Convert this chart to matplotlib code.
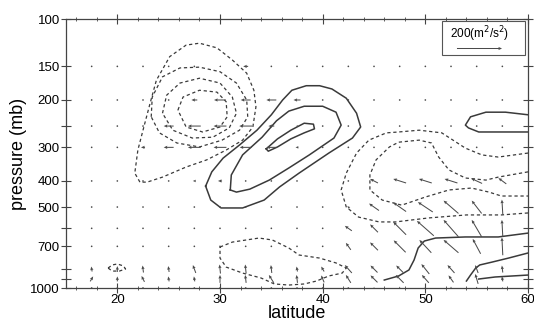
import matplotlib
matplotlib.use("Agg")
import matplotlib.pyplot as plt
import numpy as np
from matplotlib.patches import Rectangle
from matplotlib.ticker import MultipleLocator, FixedLocator, FixedFormatter, NullLocator

plt.rcParams['font.family'] = ['Liberation Sans', 'DejaVu Sans']

# === Grade dos vetores (latitude x nível de pressão) ===
lats_vec = [17.5, 20.0, 22.5, 25.0, 27.5, 30.0, 32.5, 35.0, 37.5, 40.0,
            42.5, 45.0, 47.5, 50.0, 52.5, 55.0, 57.5]
levels_vec = [1000, 925, 850, 700, 600, 500, 400, 300, 250, 200, 150]

# componente horizontal (m2/s2), uma linha por nível
u_flux = [
    [0, 0, 0, 0, 0, 0, 0, 0, 0, 0, 0, 0, 0, 0, 0, 0, 0],
    [13, 0, -13, -4, -4, 0, -4, -22, -4, -13, -22, -31, -35, -31, -22, -13, -4],
    [-4, 0, -4, -4, -13, -4, -4, -4, -4, -13, -31, -31, -31, -35, -31, -13, -4],
    [0, 0, 0, 0, 0, 0, 0, 0, 0, 0, -22, -35, -53, -53, -66, -35, -4],
    [0, 0, 0, 0, 0, 0, 0, 0, 0, 0, -31, -35, -57, -75, -66, -44, -4],
    [0, 0, 0, 0, 0, 0, 0, 0, 0, 0, -9, -44, -57, -66, -66, -44, -4],
    [0, 0, 0, 0, -13, -18, 0, 0, 0, 0, 0, -35, -57, -57, -57, -48, -35],
    [0, 0, -18, -44, -57, -57, -53, -44, -13, 0, 0, 0, 0, 0, 0, 0, 0],
    [0, 0, 0, -44, -57, -57, -57, -26, -9, 0, 0, 0, 0, 0, 0, 0, 0],
    [0, 0, 0, 0, -26, -53, -44, -44, -31, 0, 0, 0, 0, 0, 0, 0, 0],
    [0, 0, 0, 0, 0, -9, -22, 0, 0, 0, 0, 0, 0, 0, 0, 0, 0],
]
# componente vertical (positivo = para cima)
v_flux = [
    [0, 0, 0, 0, 0, 0, 0, 0, 0, 0, 0, 9, 13, 13, 13, 13, 9],
    [22, 22, 26, 22, 22, 35, 35, 35, 35, 31, 35, 31, 35, 35, 31, 44, 22],
    [22, 26, 31, 26, 35, 40, 40, 35, 22, 22, 35, 31, 31, 44, 35, 35, 31],
    [0, 0, 0, 0, 0, 0, 0, 0, 0, 0, 31, 35, 53, 57, 57, 66, 79],
    [0, 0, 0, 0, 0, 0, 0, 0, 0, 0, 22, 35, 57, 66, 75, 75, 75],
    [0, 0, 0, 0, 0, 0, 0, 0, 0, 0, 9, 31, 40, 44, 57, 57, 66],
    [0, 0, 0, 0, 0, 0, 0, 0, 0, 0, 0, 18, 18, 18, 18, 22, 26],
    [0] * 17,
    [0] * 17,
    [0] * 17,
    [0] * 17,
]

# === Contornos: (latitude, pressão) ===
# negativos (tracejados)
neg_a1 = [(22.2, 404), (21.7, 374), (22.0, 307), (22.5, 259), (23.2, 205), (23.8, 169),
          (25.1, 138), (26.7, 125), (28.0, 123), (29.7, 128), (31.2, 142), (32.6, 159),
          (33.3, 184), (33.5, 212), (33.2, 252), (32.2, 282), (30.6, 307), (28.7, 334),
          (26.7, 355), (24.4, 387), (22.9, 404), (22.2, 404)]
neg_a2 = [(23.3, 231), (23.4, 195), (24.4, 164), (26.1, 152), (28.0, 151), (30.0, 157),
          (31.6, 173), (32.6, 200), (32.7, 231), (31.9, 259), (30.2, 282), (28.0, 299),
          (25.8, 289), (24.1, 265), (23.3, 231)]
neg_a3 = [(24.4, 224), (24.8, 192), (26.1, 173), (28.0, 166), (30.0, 173), (31.2, 195),
          (31.6, 224), (30.9, 254), (29.3, 275), (27.3, 277), (25.4, 259), (24.4, 224)]
neg_a4 = [(25.9, 218), (26.4, 195), (28.0, 184), (29.7, 187), (30.6, 203), (30.7, 231),
          (30.0, 252), (28.3, 263), (26.7, 252), (25.9, 218)]
neg_b1 = [(60, 315), (57.1, 326), (55.5, 320), (53.9, 302), (51.6, 265), (49.4, 259),
          (47.4, 263), (46.2, 265), (44.5, 282), (43.3, 315), (42.3, 374), (41.8, 432),
          (42.3, 500), (43.5, 545), (45.5, 568), (47.1, 568), (50.3, 549), (54.0, 535),
          (57.4, 535), (60, 526)]
neg_b2 = [(60, 370), (57.1, 387), (55.9, 397), (53.9, 390), (52.3, 364), (51.3, 326),
          (50.6, 289), (49.4, 282), (47.4, 287), (46.5, 299), (45.2, 334), (44.6, 380),
          (44.6, 432), (45.8, 471), (47.7, 492), (50.0, 459), (52.3, 432), (54.5, 425),
          (56.2, 440), (57.4, 455), (60, 455)]
neg_c = [(30.0, 704), (31.2, 675), (33.8, 652), (35.1, 663), (36.7, 710), (37.7, 754),
         (39.7, 774), (41.3, 807), (42.3, 843), (41.9, 880), (40.6, 902), (39.4, 942),
         (38.2, 966), (36.7, 975), (35.3, 966), (34.0, 918), (32.2, 880), (30.6, 836),
         (30.0, 774), (30.0, 704)]
neg_d = [(19.1, 843), (19.5, 821), (20.0, 814), (20.6, 828), (20.8, 850), (20.2, 865),
         (19.5, 865), (19.1, 843)]

# positivos (contínuos)
pos_1 = [(28.6, 418), (29.2, 370), (30.3, 329), (31.9, 294), (33.6, 259), (35.0, 227),
         (36.1, 200), (37.0, 184), (38.4, 177), (39.7, 177), (40.9, 182), (42.3, 197),
         (43.3, 224), (43.7, 252), (42.9, 277), (40.6, 315), (37.7, 374), (35.8, 421),
         (34.3, 471), (32.2, 504), (30.1, 504), (29.1, 471), (28.6, 418)]
pos_2 = [(31.0, 432), (31.1, 380), (32.2, 320), (34.1, 275), (35.5, 239), (36.7, 220),
         (38.2, 211), (40.0, 211), (41.3, 222), (41.8, 248), (41.1, 277), (38.7, 320),
         (36.7, 358), (34.8, 397), (32.9, 429), (31.6, 440), (31.0, 432)]
pos_3 = [(34.5, 304), (35.6, 279), (36.9, 259), (38.2, 244), (39.1, 246), (39.2, 256),
         (38.2, 265), (36.9, 279), (35.6, 299), (34.7, 310), (34.5, 304)]
pos_4 = [(60, 227), (57.8, 222), (55.9, 222), (54.4, 231), (53.9, 248), (54.2, 254),
         (55.2, 263), (57.1, 263), (60, 263)]
pos_5 = [(46.0, 934), (47.4, 902), (48.4, 857), (48.9, 787), (49.3, 710), (49.9, 669),
         (51.0, 652), (53.9, 646), (57.1, 646), (60, 625)]
pos_6 = [(54.0, 942), (54.4, 895), (54.9, 843), (55.3, 821), (56.5, 801), (58.1, 774),
         (60, 741)]
pos_7 = [(55.2, 926), (56.8, 910), (60, 895)]

neg_contours = [neg_a1, neg_a2, neg_a3, neg_a4, neg_b1, neg_b2, neg_c, neg_d]
pos_contours = [pos_1, pos_2, pos_3, pos_4, pos_5, pos_6, pos_7]

# === Figura ===
fig = plt.figure(figsize=(5.34, 3.29), dpi=100)
ax = fig.add_axes([0.1236, 0.1246, 0.8652, 0.8176])
ax.set_yscale('log')

line_col = '#3a3a3a'
for c in neg_contours:
    xs, ys = zip(*c)
    ax.plot(xs, ys, color=line_col, lw=0.9, linestyle=(0, (2.6, 2.2)))
for c in pos_contours:
    xs, ys = zip(*c)
    ax.plot(xs, ys, color=line_col, lw=1.1, linestyle='-')

LAT, LEV = np.meshgrid(lats_vec, levels_vec)
Q = ax.quiver(LAT, LEV, np.array(u_flux), np.array(v_flux), pivot='middle',
              scale=444, scale_units='inches', width=0.0022, headwidth=3.2,
              headlength=3.6, headaxislength=3.2, minlength=1.8,
              color='#4a4a4a', zorder=3)

# legenda do vetor de referência
ax.add_patch(Rectangle((0.814, 0.866), 0.1795, 0.127, transform=ax.transAxes,
                       fill=False, edgecolor='#555555', lw=0.8, zorder=4))
ax.quiverkey(Q, 0.894, 0.892, 200, r'200(m$^2$/s$^2$)', labelpos='N',
             coordinates='axes', labelsep=0.04, color='#4a4a4a',
             fontproperties={'size': 8.5})

# === Eixos ===
ax.set_xlim(15, 60)
ax.set_ylim(1000, 100)
ax.xaxis.set_major_locator(MultipleLocator(10))
ax.xaxis.set_minor_locator(MultipleLocator(2))

ytick_vals = [100, 150, 200, 250, 300, 400, 500, 600, 700, 850, 925, 1000]
ytick_labs = ['100', '150', '200', '', '300', '400', '500', '', '700', '', '', '1000']
ax.yaxis.set_major_locator(FixedLocator(ytick_vals))
ax.yaxis.set_major_formatter(FixedFormatter(ytick_labs))
ax.yaxis.set_minor_locator(NullLocator())

ax.tick_params(which='major', direction='inout', length=7, width=0.8,
               labelsize=9.5, top=True, right=True, color='#444444', pad=1)
ax.tick_params(which='minor', direction='inout', length=3, width=0.6,
               top=True, right=False, color='#444444')
for s in ax.spines.values():
    s.set_linewidth(0.9)
    s.set_color('#444444')

ax.set_xlabel('latitude', fontsize=13, labelpad=-1)
ax.set_ylabel('pressure (mb)', fontsize=13, labelpad=2)

fig.savefig('out.png', dpi=100)
